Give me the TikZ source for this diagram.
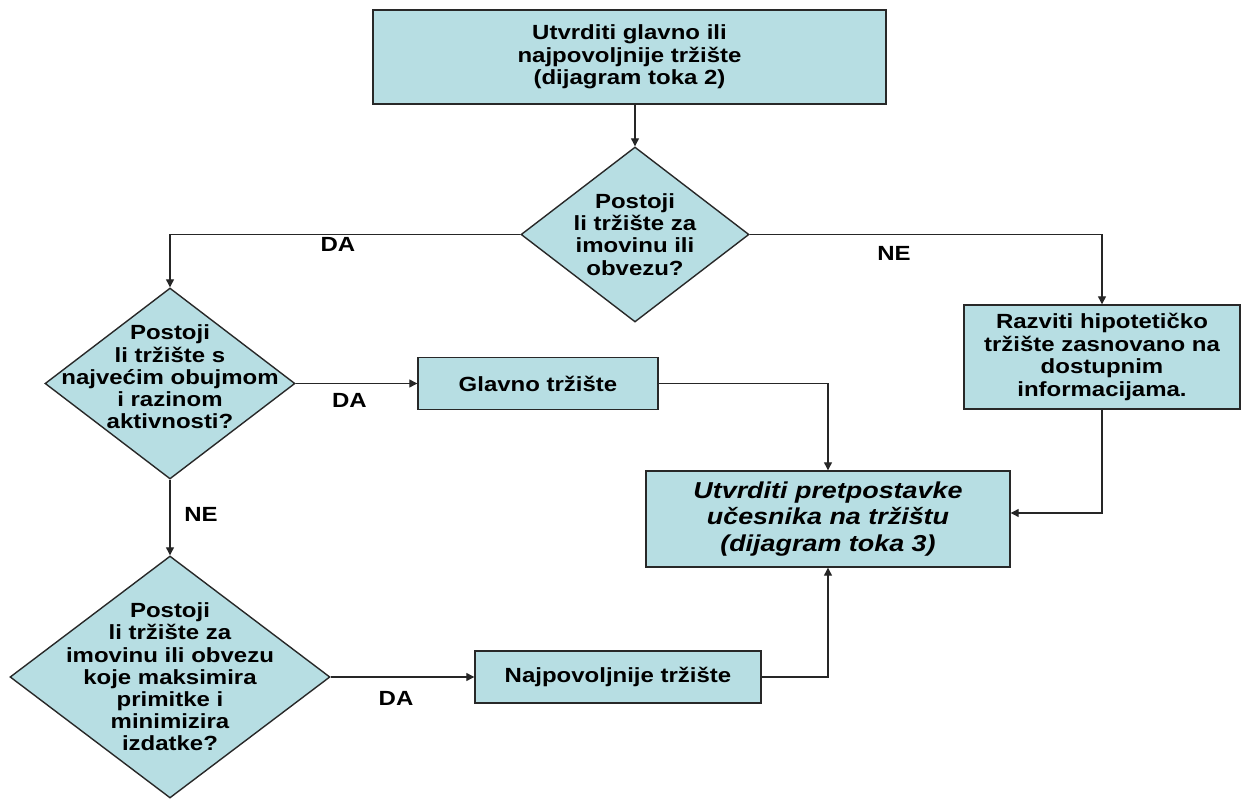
\documentclass[tikz,border=0pt]{standalone}
\usepackage{fontspec}
\setmainfont{Liberation Sans}[FakeStretch=1.17]
\usetikzlibrary{arrows.meta,shapes.geometric,calc}
\definecolor{boxfill}{RGB}{183,222,227}
\definecolor{edge}{RGB}{40,40,40}
\tikzset{
 base/.style={draw=edge, line width=1.4pt, fill=boxfill},
 proc/.style={base, rectangle, inner sep=0pt, align=center, font=\fontsize{20.5}{22.4}\selectfont\bfseries},
 dia/.style={base, diamond, inner sep=0pt},
 dtext/.style={align=center, font=\fontsize{20.5}{22.2}\selectfont\bfseries, inner sep=0pt},
 conn/.style={draw=black!85, line width=1.2pt},
 arr/.style={conn, -{Triangle[length=8pt,width=8pt]}},
 lbl/.style={font=\fontsize{20.5}{22}\selectfont\bfseries, inner sep=0pt},
}
\begin{document}
\begin{tikzpicture}[x=1pt,y=-1pt]
\fill[white] (0,0) rectangle (1248,799);
\useasboundingbox (0,0) rectangle (1248,799);

\node[proc, minimum width=513pt, minimum height=94pt] (t) at (629.5,57) {Utvrditi glavno ili\\najpovoljnije tržište\\(dijagram toka 2)};
\node[dia, minimum width=228pt, minimum height=175pt] (d1) at (635,234.5) {};
\node[dtext] (d1t) at (635,234.5) {Postoji\\li tržište za\\imovinu ili\\obvezu?};

\node[dia, minimum width=250pt, minimum height=191pt] (d2) at (170,383.5) {};
\node[dtext] (d2t) at (170,377) {Postoji\\li tržište s\\najvećim obujmom\\i razinom\\aktivnosti?};

\node[proc, minimum width=240pt, minimum height=52pt] (g) at (538,383.5) {Glavno tržište};

\node[dia, minimum width=320pt, minimum height=242pt] (d3) at (170,677) {};
\node[dtext] (d3t) at (170,677) {Postoji\\li tržište za\\imovinu ili obvezu\\koje maksimira\\primitke i\\minimizira\\izdatke?};

\node[proc, minimum width=286pt, minimum height=52pt] (n) at (618,677) {Najpovoljnije tržište};

\node[proc, minimum width=364pt, minimum height=96pt, font=\fontsize{23}{26.7}\selectfont\bfseries\itshape] (b) at (828,519) {Utvrditi pretpostavke\\učesnika na tržištu\\(dijagram toka 3)};

\node[proc, minimum width=276pt, minimum height=104pt] (r) at (1102,357) {Razviti hipotetičko\\tržište zasnovano na\\dostupnim\\informacijama.};

\draw[arr] (t.south -| d1.north) -- (d1.north);
\draw[arr] (d1.west) -| (d2.north);
\draw[arr] (d1.east) -| (r.north);
\draw[arr] (d2.east) -- (g.west);
\draw[arr] (d2.south) -- (d3.north);
\draw[arr] (d3.east) -- (n.west);
\draw[arr] (g.east) -| (b.north);
\draw[arr] (n.east) -| (b.south);
\draw[arr] (r.south) |- ($(b.east)+(0,-6)$);

\node[lbl] (l1) at (338,244) {DA};
\node[lbl] (l2) at (349.5,400) {DA};
\node[lbl] (l3) at (201,514) {NE};
\node[lbl] (l4) at (894,253) {NE};
\node[lbl] (l5) at (396,698) {DA};
\end{tikzpicture}
\end{document}
